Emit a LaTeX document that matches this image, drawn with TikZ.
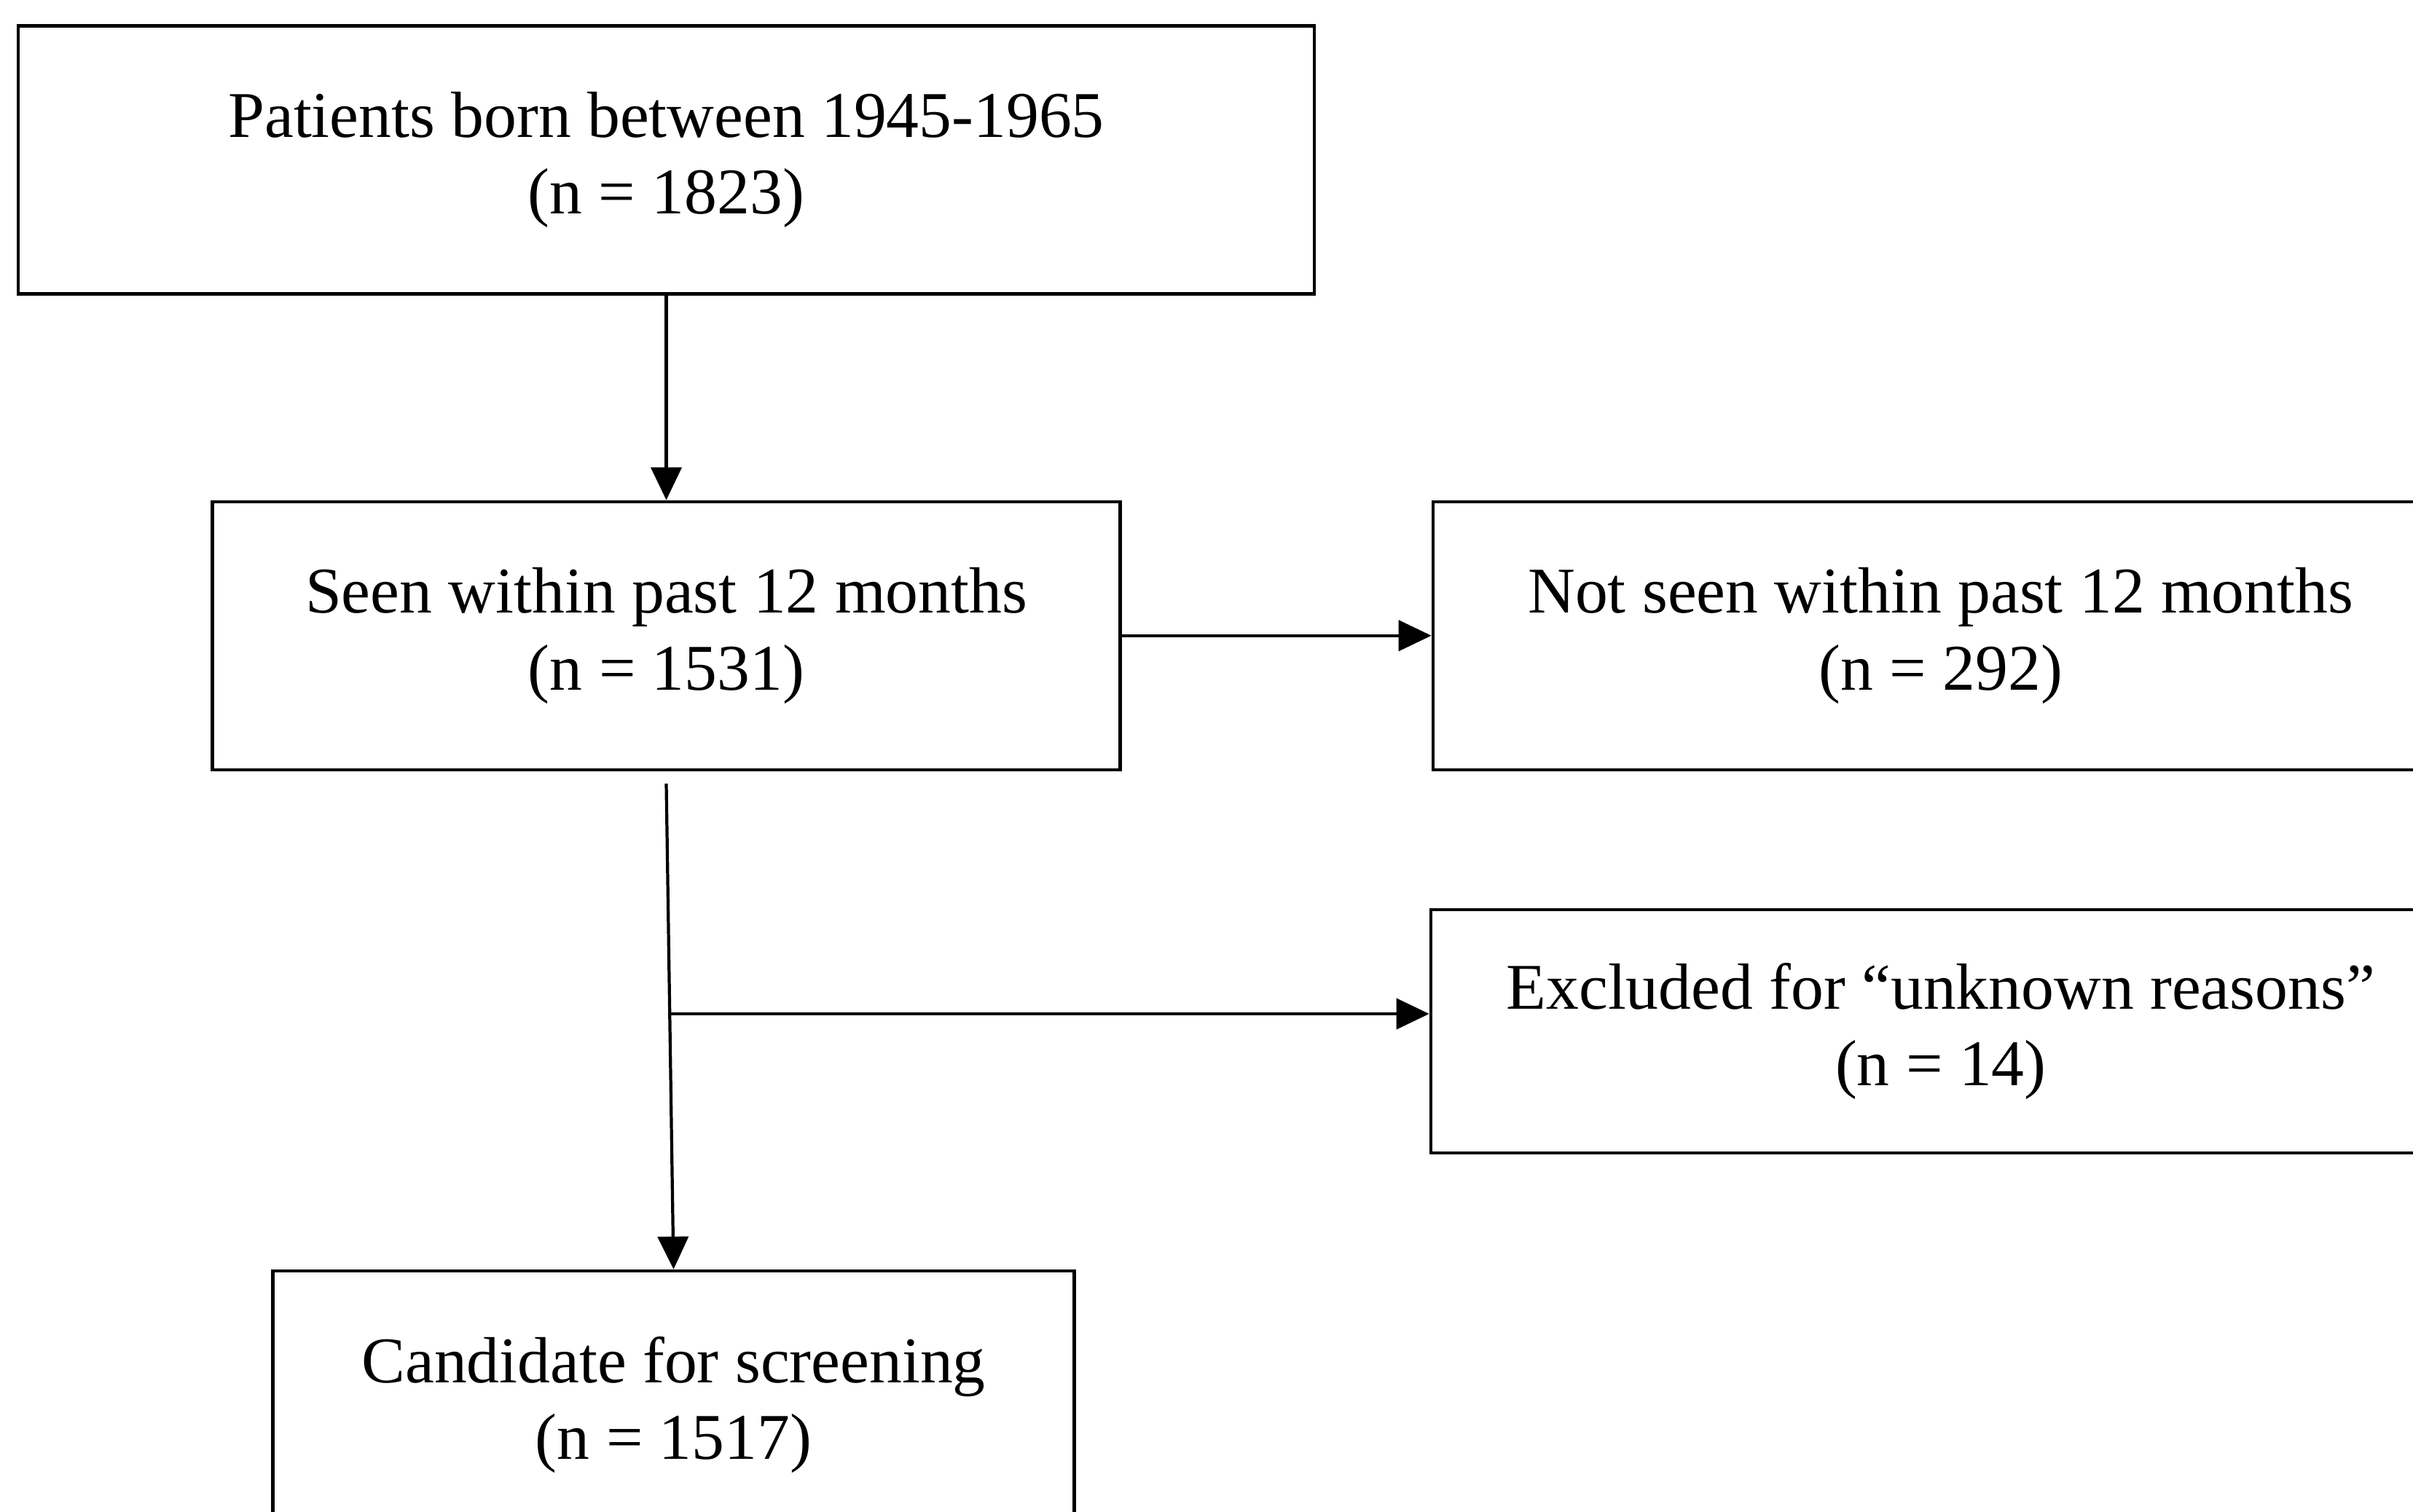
\documentclass[tikz,border=0pt]{standalone}
\usepackage{fontspec}
\setmainfont{Liberation Serif}
\usepackage{tikz}
\usetikzlibrary{arrows.meta,positioning}

\begin{document}
\begin{tikzpicture}[node distance=2.81cm and 4.25cm,
    every node/.style={font=\fontsize{25.5}{30}\selectfont},
    box/.style={draw, line width=1.2pt, fill=white, minimum height=3.68cm,
                align=center, inner sep=0pt},
    >={Triangle[width=0.42cm,length=0.45cm]}, line width=1.2pt]
  \useasboundingbox (0,0) rectangle (33.12,-20.75);
  \node[box, minimum width=17.79cm] (pop) at (9.145,-2.195)
       {Patients born between 1945-1965\\(n = 1823)};
  \node[box, minimum width=12.46cm, below=of pop] (seen)
       {Seen within past 12 months\\(n = 1531)};
  \node[box, minimum width=13.94cm, right=of seen] (notseen)
       {Not seen within past 12 months\\(n = 292)};
  \node[box, minimum width=14cm, minimum height=3.34cm, below=1.88cm of notseen] (excl)
       {Excluded for “unknown reasons”\\(n = 14)};
  \node[box, minimum width=11cm, below=6.84cm of seen, xshift=0.1cm] (cand)
       {Candidate for screening\\(n = 1517)};
  \coordinate (split) at (9.19,-13.92);
  \draw[->] (pop) -- (seen);
  \draw[->] (seen.east) -- (seen.east -| notseen.west);
  \draw[->] ([yshift=-0.17cm]seen.south) -- (cand.north);
  \draw[->] (split) -- (split -| excl.west);
\end{tikzpicture}
\end{document}
